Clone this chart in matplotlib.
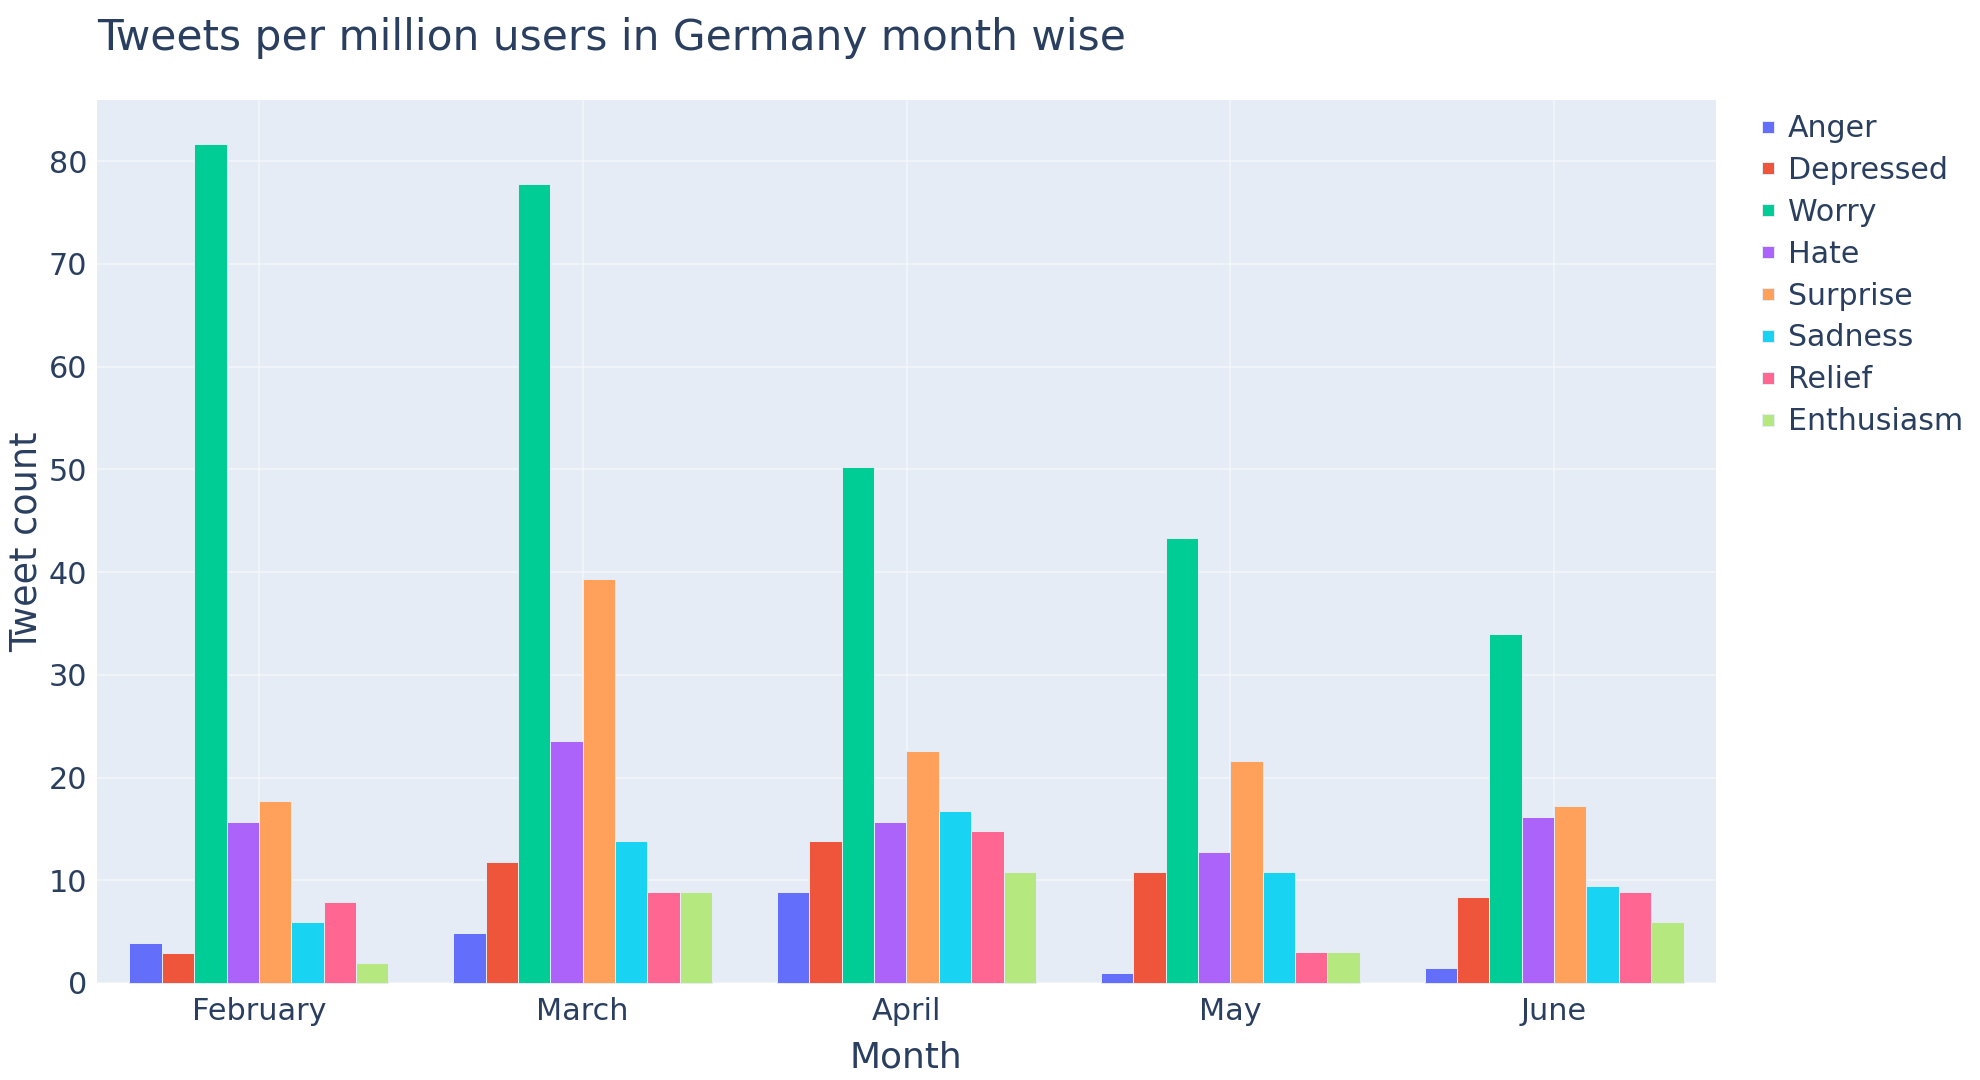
import matplotlib
matplotlib.use('Agg')
import matplotlib.pyplot as plt
from matplotlib.lines import Line2D
import numpy as np

months = ['February', 'March', 'April', 'May', 'June']

anger = [3.9, 4.9, 8.85, 1.0, 1.5]
depressed = [2.95, 11.8, 13.8, 10.8, 8.4]
worry = [81.7, 77.8, 50.2, 43.3, 34.0]
hate = [15.7, 23.6, 15.7, 12.8, 16.2]
surprise = [17.7, 39.3, 22.6, 21.6, 17.2]
sadness = [5.9, 13.8, 16.7, 10.8, 9.4]
relief = [7.9, 8.85, 14.75, 3.0, 8.9]
enthusiasm = [1.97, 8.85, 10.8, 3.0, 5.9]

names = ['Anger', 'Depressed', 'Worry', 'Hate', 'Surprise', 'Sadness', 'Relief', 'Enthusiasm']
series = [anger, depressed, worry, hate, surprise, sadness, relief, enthusiasm]
colors = ['#636EFA', '#EF553B', '#00CC96', '#AB63FA', '#FFA15A', '#19D3F3', '#FF6692', '#B6E880']

text_col = '#2A3F5F'
bg_col = '#E5ECF6'
W, H = 1980, 1080

fig = plt.figure(figsize=(W / 100, H / 100), dpi=100)
# plot area in pixels, left 97 right 1716 top 100 bottom 983
ax = fig.add_axes([97 / W, 1 - 983 / H, (1716 - 97) / W, (983 - 100) / H])
ax.set_facecolor(bg_col)

x = np.arange(len(months))
bar_w = 0.1
for i in range(len(series)):
    ax.bar(x + (i - 3.5) * bar_w, series[i], width=bar_w, color=colors[i],
           edgecolor=bg_col, linewidth=0.7, zorder=3, clip_on=False)

ax.set_xlim(-0.5, 4.5)
ax.set_ylim(0, 85.95)
ax.set_xticks(x)
ax.set_xticklabels(months)
ax.set_yticks(range(0, 90, 10))
ax.grid(True, color='#F4F7FB', linewidth=1.1, zorder=1)
ax.set_axisbelow(True)
ax.tick_params(length=0, labelsize=21.8, labelcolor=text_col)
ax.tick_params(axis='x', pad=10)
ax.tick_params(axis='y', pad=7)
for s in ax.spines.values():
    s.set_visible(False)

fig.text(97 / W, 1 - 38 / H, 'Tweets per million users in Germany month wise', fontsize=30.45,
         color=text_col, ha='left', va='center')
fig.text(906 / W, 1 - 1057 / H, 'Month', fontsize=25.9, color=text_col, ha='center', va='center')
fig.text(26 / W, 1 - 542 / H, 'Tweet count', fontsize=26.3, color=text_col, rotation=90,
         ha='center', va='center')

handles = [Line2D([], [], linestyle='none', marker='s', markersize=8.6, color=c,
                  markeredgecolor=bg_col, markeredgewidth=0.7) for c in colors]
fig.legend(handles, names, loc='upper left', bbox_to_anchor=(1753 / W, 1 - 114 / H),
           frameon=False, fontsize=21.6, labelcolor=text_col, borderpad=0, borderaxespad=0,
           handlelength=1.0, handletextpad=0.17, labelspacing=0.43)

plt.savefig('out.png', dpi=100)
